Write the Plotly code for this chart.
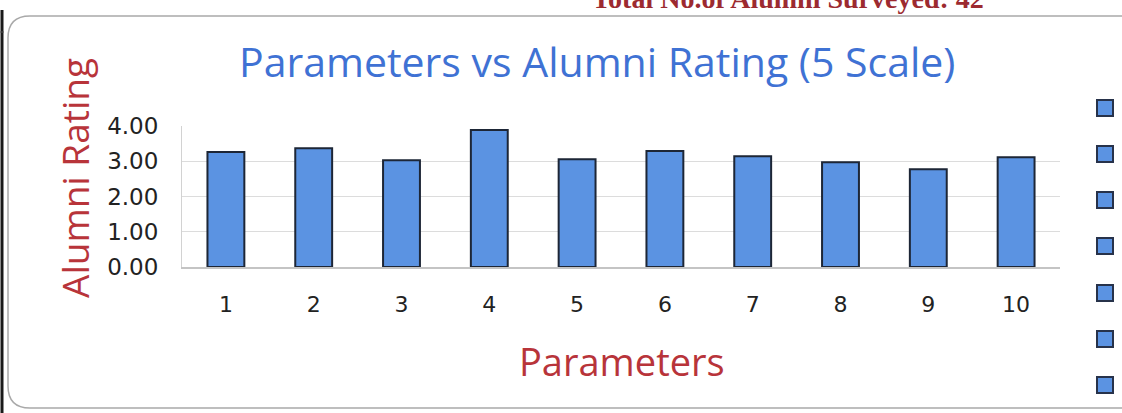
import plotly.graph_objects as go

# Survey results: average alumni rating (out of 5) per parameter
parameters = ["1", "2", "3", "4", "5", "6", "7", "8", "9", "10"]
ratings = [3.26, 3.37, 3.03, 3.89, 3.06, 3.29, 3.14, 2.97, 2.77, 3.11]
rating_ticks = [0, 1, 2, 3, 4]
alumni_surveyed = 42

W, H = 1122, 413


def px(x):
    return x / W


def py(y):
    return 1 - y / H


BAR_FILL = "#5b93e2"
BAR_EDGE = "#1d2636"
BLUE = "#3f72d4"
RED = "#b8343a"
HAND = "Open Sans, DejaVu Sans, sans-serif"

fig = go.Figure(
    go.Bar(
        x=parameters,
        y=ratings,
        marker=dict(color=BAR_FILL, line=dict(color=BAR_EDGE, width=2)),
        hoverinfo="x+y",
    )
)

fig.update_layout(
    width=W,
    height=H,
    margin=dict(l=0, r=0, t=0, b=0),
    paper_bgcolor="white",
    plot_bgcolor="white",
    showlegend=False,
    bargap=0.58,
    xaxis=dict(
        domain=[px(182), px(1060)],
        type="category",
        range=[-0.5, 9.5],
        showgrid=False,
        showline=True,
        linecolor="#c4c4c4",
        linewidth=1.5,
        ticks="",
        ticklabelstandoff=17,
        tickfont=dict(family="DejaVu Sans", size=22, color="#222222"),
        automargin=False,
    ),
    yaxis=dict(
        domain=[py(267), py(126)],
        range=[0, 4],
        tickvals=rating_ticks,
        tickformat=".2f",
        showgrid=True,
        gridcolor="#dcdcdc",
        gridwidth=1,
        zeroline=False,
        showline=True,
        linecolor="#d2d2d2",
        ticks="",
        ticklabelstandoff=18,
        tickfont=dict(family="DejaVu Sans", size=23, color="#222222"),
        automargin=False,
    ),
)

annotations = [
    # heading above the panel, partly running off the top of the page
    dict(
        text=f"<b>Total No.of Alumni Surveyed: {alumni_surveyed}</b>",
        x=px(788), y=py(-1), xanchor="center", yanchor="middle",
        font=dict(family="Liberation Serif, serif", size=28, color="#9c2a30"),
    ),
    dict(
        text="Parameters vs Alumni Rating (5 Scale)",
        x=px(597), y=py(61), xanchor="center", yanchor="middle",
        font=dict(family=HAND, size=41, color=BLUE),
    ),
    dict(
        text="Alumni Rating",
        x=px(74), y=py(178), xanchor="center", yanchor="middle",
        textangle=-90,
        font=dict(family=HAND, size=37, color=RED),
    ),
    dict(
        text="Parameters",
        x=px(622), y=py(361), xanchor="center", yanchor="middle",
        font=dict(family=HAND, size=38, color=RED),
    ),
]
for a in annotations:
    a.update(xref="paper", yref="paper", showarrow=False)
fig.update_layout(annotations=annotations)

shapes = []

# rounded panel frame (right edge runs off the page)
x0, y0, x1, y1, r = 8, 16, 1130, 408, 22
path = (
    f"M {px(x1)},{py(y0)} L {px(x0 + r)},{py(y0)} "
    f"Q {px(x0)},{py(y0)} {px(x0)},{py(y0 + r)} "
    f"L {px(x0)},{py(y1 - r)} "
    f"Q {px(x0)},{py(y1)} {px(x0 + r)},{py(y1)} "
    f"L {px(x1)},{py(y1)}"
)
shapes.append(dict(type="path", path=path, xref="paper", yref="paper",
                   line=dict(color="#a9a9a9", width=1.5)))

# dark table rule at the far left
shapes.append(dict(type="line", xref="paper", yref="paper",
                   x0=px(2), x1=px(2), y0=py(10), y1=py(413),
                   line=dict(color="#1a1a1a", width=3)))
shapes.append(dict(type="line", xref="paper", yref="paper",
                   x0=px(0), x1=px(4), y0=py(32), y1=py(32),
                   line=dict(color="#555555", width=1)))

# legend swatches along the right edge
for cy in [108, 154, 200, 246, 293, 339, 385]:
    shapes.append(dict(type="rect", xref="paper", yref="paper",
                       x0=px(1097), x1=px(1113), y0=py(cy + 8), y1=py(cy - 8),
                       fillcolor=BAR_FILL, line=dict(color="#27324a", width=2)))

fig.update_layout(shapes=shapes)

fig.write_html("out.html")
